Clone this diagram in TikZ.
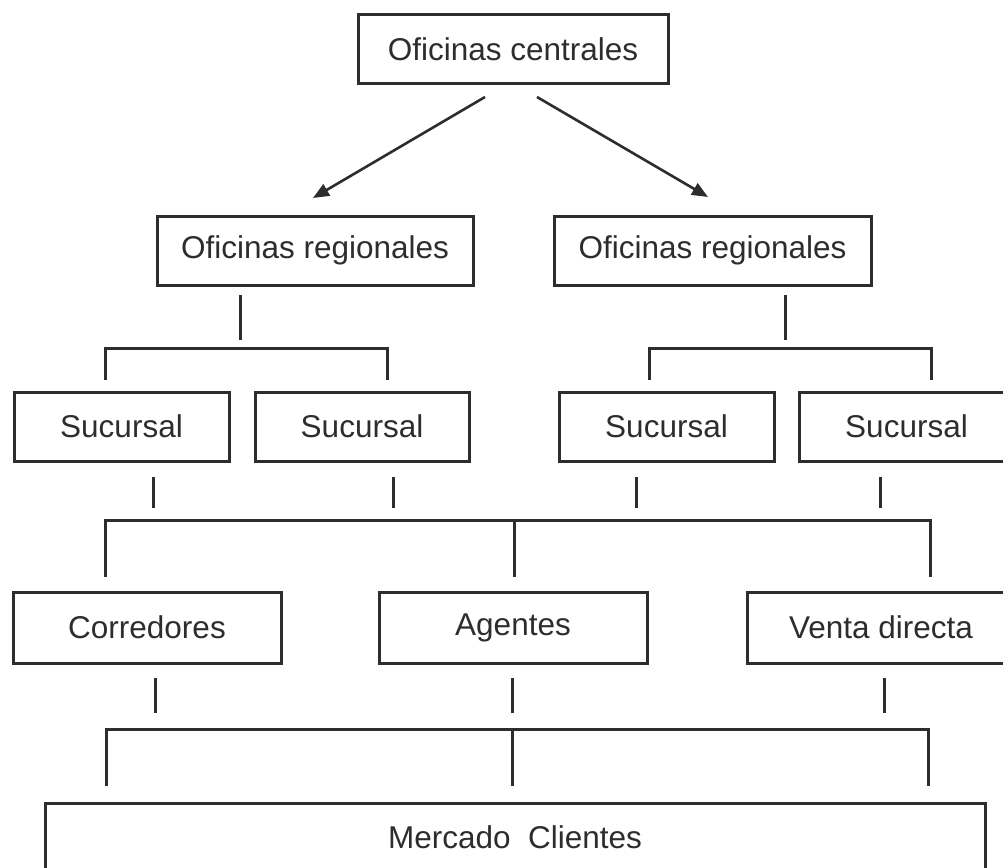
\documentclass[tikz,border=0pt]{standalone}
\usepackage{fontspec}
\setmainfont{Liberation Sans}
\usetikzlibrary{arrows.meta}
\definecolor{ink}{RGB}{45,45,45}
\tikzset{
  box/.style={draw=ink, line width=3pt, text=ink, inner sep=0pt,
    minimum height=69pt, font=\fontsize{31.5}{36}\selectfont},
  link/.style={draw=ink, line width=3pt},
  arr/.style={draw=ink, line width=2.6pt, -{Triangle[length=16pt,width=13pt]}}
}
\begin{document}
\begin{tikzpicture}[x=1pt,y=-1pt]
\useasboundingbox (0,0) rectangle (1003,867);
% nodes
\node[box, minimum width=310pt, minimum height=68pt] (hq) at (513,49) {Oficinas centrales};
\node[box, minimum width=316pt] (r1) at (315,250.5) {Oficinas regionales};
\node[box, minimum width=317pt] (r2) at (712.5,250.5) {Oficinas regionales};
\node[box, minimum width=215pt] (s1) at (121.5,426.5) {Sucursal};
\node[box, minimum width=214pt] (s2) at (362,426.5) {Sucursal};
\node[box, minimum width=215pt] (s3) at (666.5,426.5) {Sucursal};
\node[box, minimum width=215pt] (s4) at (906.5,426.5) {Sucursal};
\node[box, minimum width=268pt, minimum height=71pt] (c1) at (147,627.5) {Corredores};
\node[box, minimum width=268pt, minimum height=71pt] (c2) at (513,627.5) {Agentes};
\node[box, minimum width=268pt, minimum height=71pt] (c3) at (881,627.5) {Venta directa};
\node[box, minimum width=940pt, minimum height=68pt] (m) at (515,837) {Mercado\ \ Clientes};
% arrows
\coordinate (a1s) at (485,97);
\coordinate (a1e) at (313,198);
\coordinate (a2s) at (537,97);
\coordinate (a2e) at (708,197);
\draw[arr] (a1s) -- (a1e);
\draw[arr] (a2s) -- (a2e);
% level 1 left
\coordinate (r1a) at (240,295);
\coordinate (r1b) at (240,340);
\coordinate (b1l) at (105,380);
\coordinate (b1lc) at (105,348);
\coordinate (b1rc) at (387,348);
\coordinate (b1r) at (387,380);
\draw[link] (r1a) -- (r1b);
\draw[link] (b1l) -- (b1lc) -- (b1rc) -- (b1r);
% level 1 right
\coordinate (r2a) at (785,295);
\coordinate (r2b) at (785,340);
\coordinate (b2l) at (649,380);
\coordinate (b2lc) at (649,348);
\coordinate (b2rc) at (931,348);
\coordinate (b2r) at (931,380);
\draw[link] (r2a) -- (r2b);
\draw[link] (b2l) -- (b2lc) -- (b2rc) -- (b2r);
% sucursal stubs
\foreach \x/\n in {153/1,393/2,636/3,880/4}{
  \coordinate (st\n a) at (\x,477);
  \coordinate (st\n b) at (\x,508);
  \draw[link] (st\n a) -- (st\n b);
}
% bracket 2
\coordinate (k2l) at (105,577);
\coordinate (k2lc) at (105,520);
\coordinate (k2rc) at (930,520);
\coordinate (k2r) at (930,577);
\coordinate (k2m) at (514,577);
\coordinate (k2mc) at (514,520);
\draw[link] (k2l) -- (k2lc) -- (k2rc) -- (k2r);
\draw[link] (k2m) -- (k2mc);
% channel stubs
\foreach \x/\n in {155/1,512/2,884/3}{
  \coordinate (ct\n a) at (\x,678);
  \coordinate (ct\n b) at (\x,713);
  \draw[link] (ct\n a) -- (ct\n b);
}
% bracket 3
\coordinate (k3l) at (106,786);
\coordinate (k3lc) at (106,729);
\coordinate (k3rc) at (928,729);
\coordinate (k3r) at (928,786);
\coordinate (k3m) at (512,786);
\coordinate (k3mc) at (512,729);
\draw[link] (k3l) -- (k3lc) -- (k3rc) -- (k3r);
\draw[link] (k3m) -- (k3mc);
\end{tikzpicture}
\end{document}
